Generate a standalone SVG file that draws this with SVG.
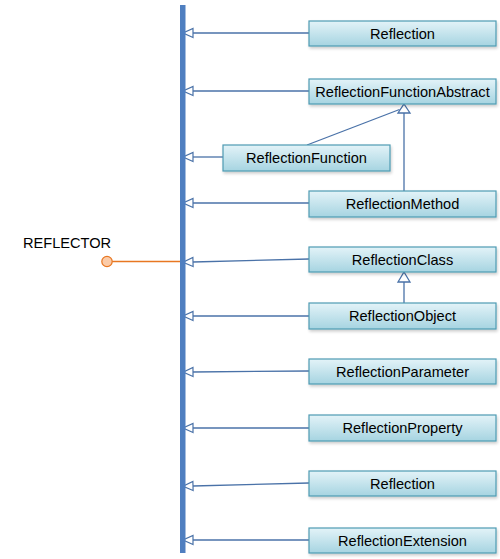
<svg xmlns="http://www.w3.org/2000/svg" width="500" height="559" viewBox="0 0 500 559">
<defs>
<linearGradient id="g" x1="0" y1="0" x2="0" y2="1">
<stop offset="0" stop-color="#e3f3f8"/>
<stop offset="1" stop-color="#a6d4e1"/>
</linearGradient>
<marker id="tri" markerUnits="userSpaceOnUse" markerWidth="12" markerHeight="12" viewBox="0 0 12 12" refX="1" refY="6" orient="auto">
<path d="M1,1.5 L11,6 L1,10.5 Z" fill="#fff" stroke="#4a72a8" stroke-width="1.2"/>
</marker>
<filter id="sh" x="-5%" y="-20%" width="115%" height="160%">
<feGaussianBlur in="SourceAlpha" stdDeviation="1.5"/>
<feOffset dx="1" dy="2"/>
<feComponentTransfer><feFuncA type="linear" slope="0.2"/></feComponentTransfer>
<feMerge><feMergeNode/><feMergeNode in="SourceGraphic"/></feMerge>
</filter>
</defs>
<style>
.box{fill:url(#g);stroke:#4e9bb3;stroke-width:1.2;filter:url(#sh)}
.t{font-family:"Liberation Sans",Arial,sans-serif;font-size:14.6px;fill:#000;text-anchor:middle}
.c{stroke:#4a72a8;stroke-width:1.3;fill:none}
.gen{stroke:#4a72a8;stroke-width:1.3;fill:#fff}
</style>
<g id="connectors">
<line class="c" x1="309" y1="33" x2="193" y2="33" marker-end="url(#tri)"/>
<line class="c" x1="309" y1="91" x2="193" y2="91" marker-end="url(#tri)"/>
<line class="c" x1="223" y1="157" x2="193" y2="157" marker-end="url(#tri)"/>
<line class="c" x1="309" y1="203" x2="193" y2="203" marker-end="url(#tri)"/>
<line class="c" x1="309" y1="259" x2="193" y2="262" marker-end="url(#tri)"/>
<line class="c" x1="309" y1="316" x2="193" y2="316" marker-end="url(#tri)"/>
<line class="c" x1="309" y1="371" x2="193" y2="372" marker-end="url(#tri)"/>
<line class="c" x1="309" y1="428" x2="193" y2="428" marker-end="url(#tri)"/>
<line class="c" x1="309" y1="483" x2="193" y2="486" marker-end="url(#tri)"/>
<line class="c" x1="309" y1="540" x2="193" y2="540" marker-end="url(#tri)"/>
<line class="c" x1="307" y1="145" x2="399.5" y2="109.5"/>
<line class="c" x1="404" y1="191" x2="404" y2="113"/>
<path class="gen" d="M404,104 L410,113 L398,113 Z"/>
<line class="c" x1="404" y1="303" x2="404" y2="282"/>
<path class="gen" d="M404,272 L410,282 L398,282 Z"/>
<line x1="112" y1="261.5" x2="180" y2="261.5" stroke="#e87722" stroke-width="1.3"/>
</g>
<g id="bar"><rect x="180" y="5" width="5.5" height="548" fill="#4f7fc0"/></g>
<g id="reflector">
<circle cx="107" cy="261.5" r="5.2" fill="#fbcba8" stroke="#e87722" stroke-width="1.2"/>
<text x="23" y="248" font-family="Liberation Sans,Arial,sans-serif" font-size="14.6" fill="#000">REFLECTOR</text>
</g>
<g id="n1"><rect class="box" x="309" y="21" width="187" height="25"/><text class="t" x="402.5" y="38.5">Reflection</text></g>
<g id="n2"><rect class="box" x="309" y="79" width="187" height="25"/><text class="t" x="402.5" y="96.5">ReflectionFunctionAbstract</text></g>
<g id="n3"><rect class="box" x="223" y="145" width="167" height="26"/><text class="t" x="306.5" y="163">ReflectionFunction</text></g>
<g id="n4"><rect class="box" x="309" y="191" width="187" height="26"/><text class="t" x="402.5" y="209">ReflectionMethod</text></g>
<g id="n5"><rect class="box" x="309" y="247" width="187" height="25"/><text class="t" x="402.5" y="264.5">ReflectionClass</text></g>
<g id="n6"><rect class="box" x="309" y="303" width="187" height="26"/><text class="t" x="402.5" y="321">ReflectionObject</text></g>
<g id="n7"><rect class="box" x="309" y="359" width="187" height="25"/><text class="t" x="402.5" y="377">ReflectionParameter</text></g>
<g id="n8"><rect class="box" x="309" y="415" width="187" height="26"/><text class="t" x="402.5" y="433">ReflectionProperty</text></g>
<g id="n9"><rect class="box" x="309" y="471" width="187" height="25"/><text class="t" x="402.5" y="489">Reflection</text></g>
<g id="n10"><rect class="box" x="309" y="528" width="187" height="25"/><text class="t" x="402.5" y="545.5">ReflectionExtension</text></g>
</svg>
